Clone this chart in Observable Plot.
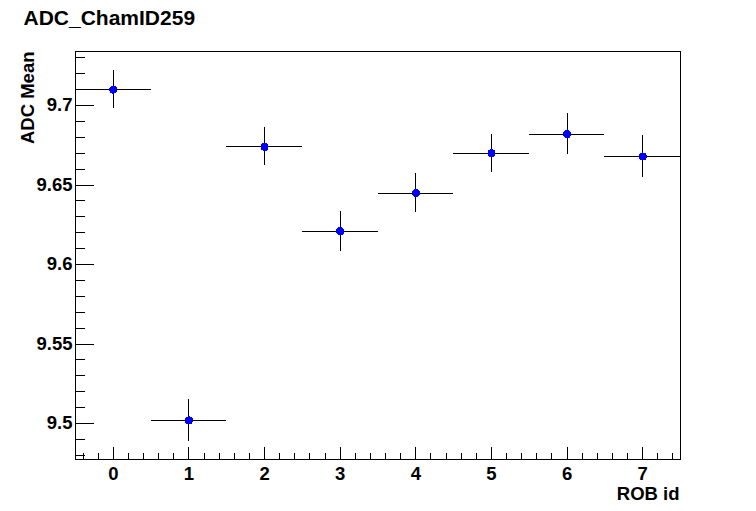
<!DOCTYPE html>
<html><head><meta charset="utf-8">
<script src="https://cdn.jsdelivr.net/npm/d3@7"></script>
<script src="https://cdn.jsdelivr.net/npm/@observablehq/plot@0.6"></script>
<style>html,body{margin:0;padding:0;background:#fff;} #chart{width:756px;height:511px;}
#chart svg line, #chart svg path, #chart svg rect, #chart svg circle {shape-rendering: crispEdges;}</style>
</head><body><div id="chart"></div>
<script>
// ---- data ----
const robIds  = [0, 1, 2, 3, 4, 5, 6, 7];
const adcMean = [9.710, 9.502, 9.674, 9.621, 9.645, 9.670, 9.682, 9.668];
const adcErr  = [0.012, 0.013, 0.012, 0.0125, 0.0125, 0.012, 0.013, 0.013];
const binHalfWidth = 0.5;
const titleText = "ADC_ChamID259";
const xLabel = "ROB id";
const yLabel = "ADC Mean";
const xDomain = [-0.5, 7.5];
const yDomain = [9.4774, 9.734];
const xMajorTicks = [0, 1, 2, 3, 4, 5, 6, 7];
const xMinorTicks = d3.range(-2, 38).map(d => d / 5).filter(d => Math.abs(d - Math.round(d)) > 1e-6);
const yMajorTicks = [9.5, 9.55, 9.6, 9.65, 9.7];
const yMinorTicks = d3.range(948, 974).map(d => d / 100).filter(d => Math.round(d * 100) % 5 !== 0);

const data = robIds.map((r, i) => ({rob: r, mean: adcMean[i], err: adcErr[i]}));
const font = "'Liberation Sans', Arial, Helvetica, sans-serif";

const chart = Plot.plot({
  width: 756, height: 511,
  marginLeft: 75, marginRight: 76, marginTop: 51, marginBottom: 52,
  style: {fontFamily: font, background: "white", color: "black"},
  x: {domain: xDomain, label: null},
  y: {domain: yDomain, label: null},
  marks: [
    Plot.frame({stroke: "black"}),
    Plot.axisY({ticks: yMinorTicks, tickSize: -10, tickFormat: () => "", anchor: "left", label: null}),
    Plot.axisY({ticks: yMajorTicks, tickSize: -19, tickFormat: () => "", anchor: "left", label: null}),
    Plot.axisY({ticks: yMajorTicks, tickSize: 0, tickPadding: 3, fontSize: 18.5, fontWeight: "bold", anchor: "left", label: null, tickFormat: d => String(d)}),
    Plot.axisX({ticks: xMinorTicks, tickSize: -6, tickFormat: () => "", anchor: "bottom", label: null}),
    Plot.axisX({ticks: xMajorTicks, tickSize: -12, tickFormat: () => "", anchor: "bottom", label: null}),
    Plot.axisX({ticks: xMajorTicks, tickSize: 0, tickPadding: 7, fontSize: 18.5, fontWeight: "bold", anchor: "bottom", label: null, tickFormat: d => String(d)}),
    Plot.ruleY(data, {y: "mean", x1: d => d.rob - binHalfWidth, x2: d => d.rob + binHalfWidth, stroke: "black", strokeWidth: 1}),
    Plot.ruleX(data, {x: "rob", y1: d => d.mean - d.err, y2: d => d.mean + d.err, stroke: "black", strokeWidth: 1}),
    Plot.dot(data, {x: "rob", y: "mean", r: 4, fill: "#0000ff", stroke: null}),
    Plot.text([titleText], {text: d => d, frameAnchor: "top-left", textAnchor: "start", lineAnchor: "top", dx: -52, dy: -41, fontSize: 21, fontWeight: "bold"}),
    Plot.text([yLabel], {text: d => d, frameAnchor: "top-left", rotate: -90, textAnchor: "end", lineAnchor: "middle", dx: -47, dy: 0, fontSize: 18.5, fontWeight: "bold"}),
    Plot.text([xLabel], {text: d => d, frameAnchor: "bottom-right", textAnchor: "end", lineAnchor: "top", dx: -1, dy: 27, fontSize: 18.5, fontWeight: "bold"})
  ]
});
document.getElementById("chart").appendChild(chart);
</script>
</body></html>
